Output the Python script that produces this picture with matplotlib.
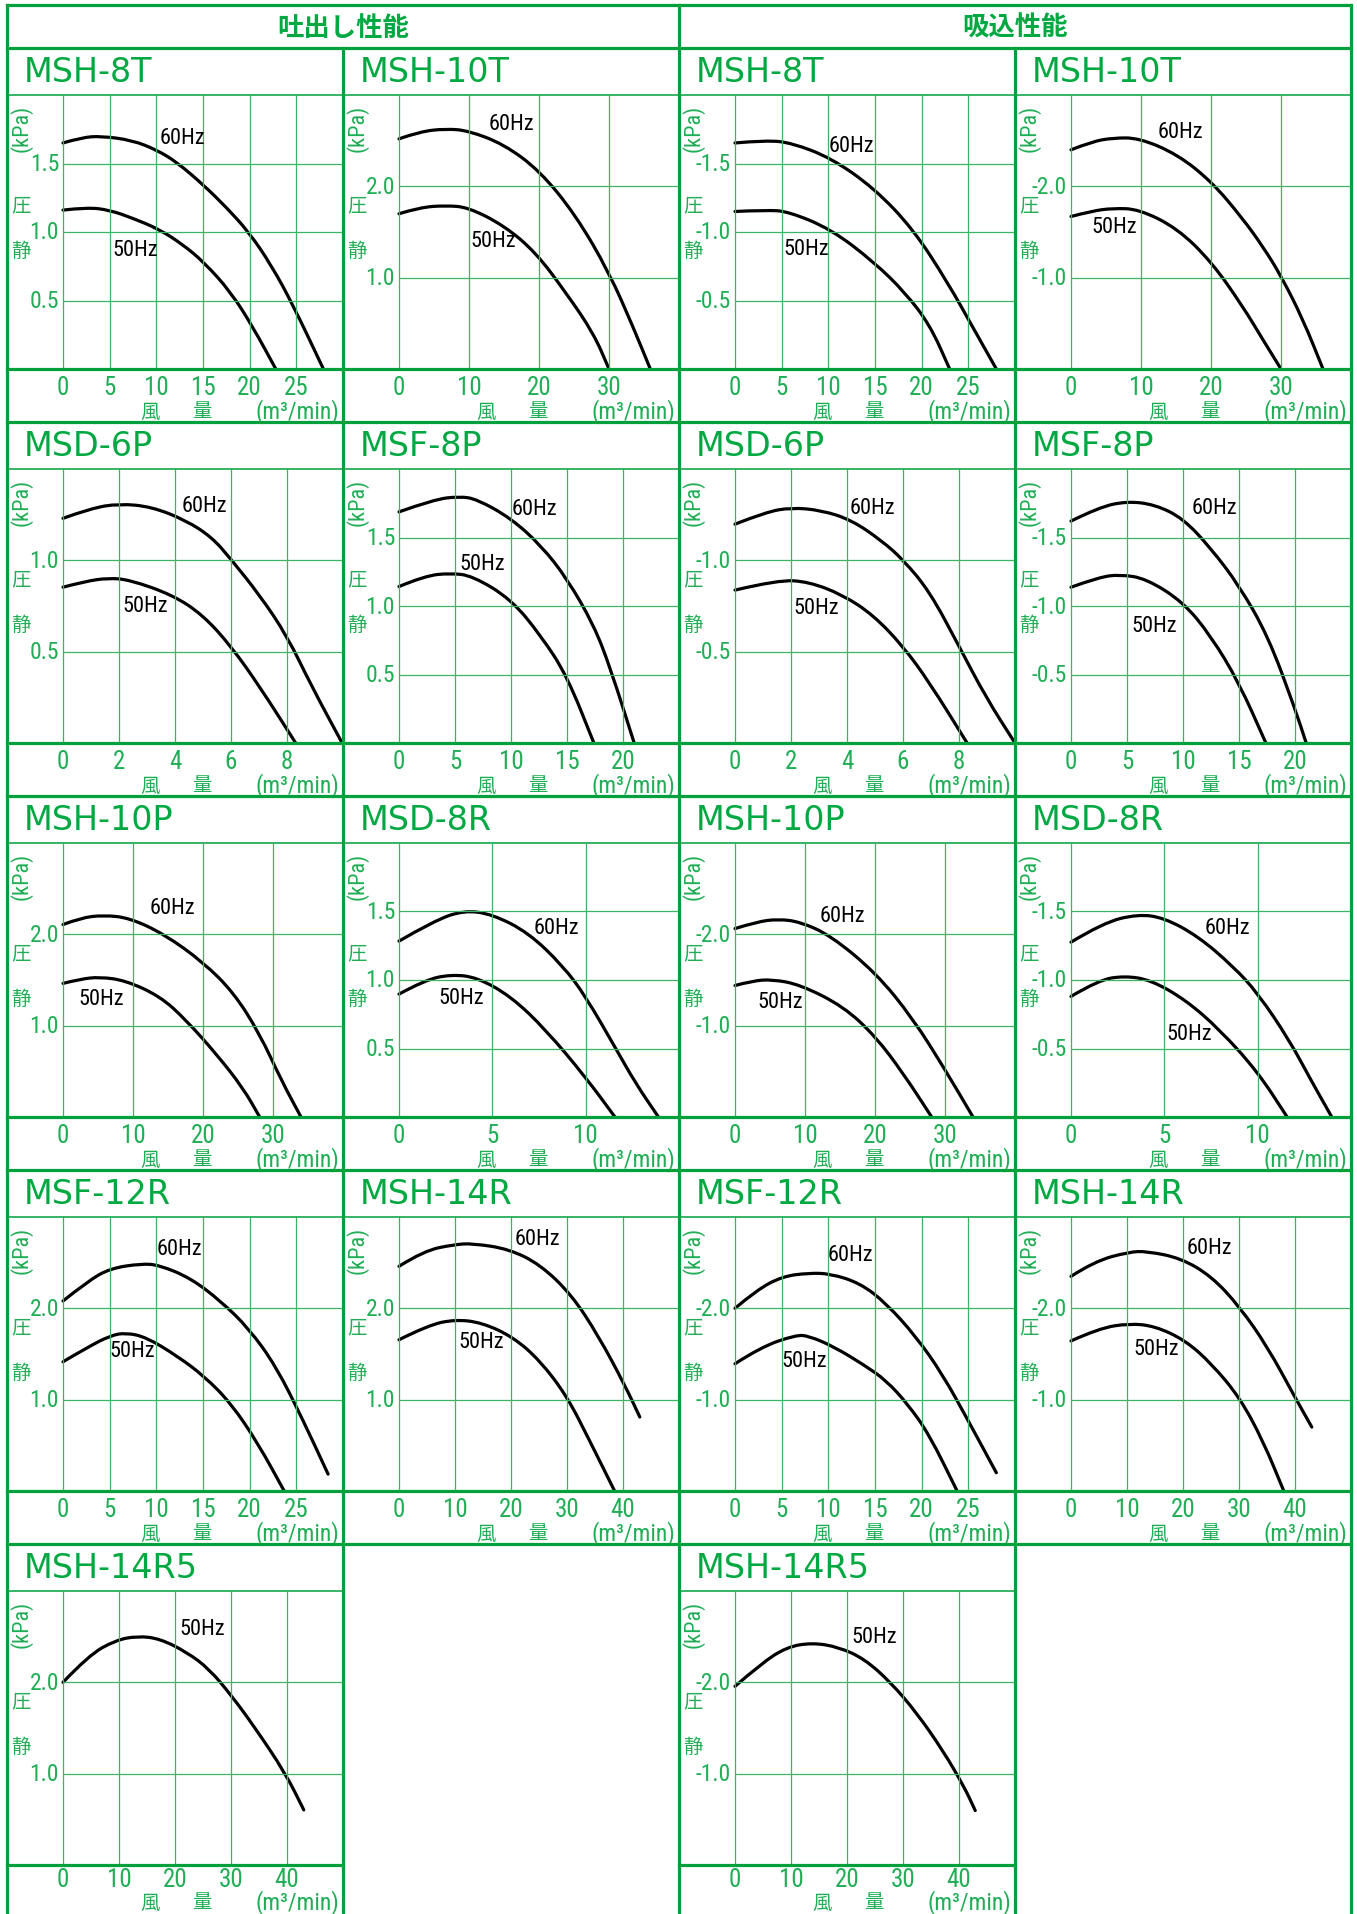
import matplotlib
matplotlib.use("Agg")
import matplotlib.pyplot as plt
from matplotlib import font_manager as fm
from matplotlib.path import Path
from matplotlib.patches import PathPatch

W, H = 1357, 1915

# ---------------- data: 風量 (m3/min) / 静圧 (kPa) ----------------
# 吐出し性能 (discharge)
d_msh8t_q60 = [0, 2, 4.1, 7.4, 10, 12.2, 15.1, 17.5, 19.9, 22.3, 24.7, 27.9]
d_msh8t_p60 = [1.65, 1.69, 1.70, 1.67, 1.60, 1.51, 1.34, 1.18, 1.00, 0.76, 0.46, 0.0]
d_msh8t_q50 = [0, 2.6, 5.0, 7.5, 10.3, 12.8, 15.1, 18.0, 20.4, 22.8]
d_msh8t_p50 = [1.16, 1.18, 1.16, 1.10, 1.02, 0.91, 0.78, 0.56, 0.30, 0.0]

d_msh10t_q60 = [0, 3, 6.7, 9.9, 15, 20.1, 25.2, 30, 33.5, 35.9]
d_msh10t_p60 = [2.52, 2.60, 2.63, 2.61, 2.46, 2.17, 1.69, 1.06, 0.45, 0.0]
d_msh10t_q50 = [0, 3, 6.7, 9.9, 15, 19.5, 23.9, 27.8, 30]
d_msh10t_p50 = [1.70, 1.77, 1.79, 1.77, 1.57, 1.28, 0.83, 0.39, 0.0]

d_msd6p_q60 = [0, 1, 2, 3.15, 4.39, 5.32, 6, 7.02, 8, 8.88, 9.97]
d_msd6p_p60 = [1.23, 1.285, 1.31, 1.294, 1.219, 1.126, 1.006, 0.81, 0.587, 0.31, 0.0]
d_msd6p_q50 = [0, 0.8, 1.6, 2.37, 3.92, 5.0, 6, 7.02, 8.31]
d_msd6p_p50 = [0.853, 0.885, 0.903, 0.894, 0.81, 0.70, 0.53, 0.31, 0.0]

d_msf8p_q60 = [0, 3.09, 5.4, 6.95, 10, 12.7, 15, 17.4, 18.9, 21]
d_msf8p_p60 = [1.687, 1.777, 1.80, 1.78, 1.64, 1.44, 1.20, 0.86, 0.54, 0.0]
d_msf8p_q50 = [0, 2.3, 4.6, 6.56, 10, 12.7, 15, 17.4]
d_msf8p_p50 = [1.142, 1.22, 1.24, 1.22, 1.05, 0.78, 0.49, 0.0]

d_msh10p_q60 = [0, 2.5, 5.78, 9.5, 14.5, 20.1, 24.4, 28.1, 31.2, 34]
d_msh10p_p60 = [2.107, 2.18, 2.21, 2.18, 2.0, 1.69, 1.36, 0.91, 0.40, 0.0]
d_msh10p_q50 = [0, 2.5, 5.2, 8.9, 13.9, 17.6, 21.9, 25.7, 28.1]
d_msh10p_p50 = [1.463, 1.51, 1.533, 1.496, 1.32, 1.06, 0.69, 0.32, 0.0]

d_msd8r_q60 = [0, 1.85, 3.47, 5, 6.94, 8.8, 10, 11.57, 12.7, 13.9]
d_msd8r_p60 = [1.284, 1.43, 1.509, 1.48, 1.345, 1.10, 0.88, 0.51, 0.24, 0.0]
d_msd8r_q50 = [0, 1.39, 2.78, 4.17, 6.0, 7.87, 10, 11.57]
d_msd8r_p50 = [0.897, 1.0, 1.04, 1.02, 0.88, 0.636, 0.29, 0.0]

d_msf12r_q60 = [0, 2.64, 5.04, 8.4, 10.3, 13.7, 17.0, 19.9, 22.8, 25.7, 28.4]
d_msf12r_p60 = [2.08, 2.296, 2.437, 2.489, 2.474, 2.33, 2.07, 1.78, 1.37, 0.78, 0.185]
d_msf12r_q50 = [0, 2.64, 5.04, 6.7, 8.9, 12.2, 15.1, 18.0, 20.9, 23.7]
d_msf12r_p50 = [1.415, 1.574, 1.70, 1.733, 1.685, 1.48, 1.26, 0.96, 0.52, 0.0]

d_msh14r_q60 = [0, 4.4, 10, 13.2, 19.6, 25.2, 30.8, 35.6, 40.4, 43]
d_msh14r_p60 = [2.46, 2.63, 2.70, 2.71, 2.65, 2.48, 2.15, 1.70, 1.15, 0.81]
d_msh14r_q50 = [0, 5.2, 10, 14.8, 20.4, 25.2, 30, 34, 38.5]
d_msh14r_p50 = [1.656, 1.815, 1.878, 1.844, 1.685, 1.426, 1.037, 0.556, 0.0]

d_msh14r5_q50 = [0, 4.55, 9.34, 13.3, 17.3, 22.1, 26.1, 30.1, 34.1, 39.7, 43]
d_msh14r5_p50 = [2.0, 2.294, 2.46, 2.507, 2.478, 2.33, 2.147, 1.853, 1.52, 1.007, 0.603]

# 吸込性能 (suction, magnitudes; labels are negative)
s_msh8t_q60 = [0, 3.4, 6.1, 10.3, 14.9, 19.1, 22.8, 25.6, 28]
s_msh8t_p60 = [1.65, 1.67, 1.65, 1.54, 1.32, 1.02, 0.63, 0.29, 0.0]
s_msh8t_q50 = [0, 3.4, 5.7, 10.3, 14.9, 18.2, 20.9, 23]
s_msh8t_p50 = [1.15, 1.16, 1.15, 1.02, 0.78, 0.56, 0.32, 0.0]

s_msh10t_q60 = [0, 3, 6, 9.7, 15.2, 20.1, 24.5, 27.5, 30, 33.1, 36]
s_msh10t_p60 = [2.40, 2.49, 2.53, 2.53, 2.35, 2.05, 1.65, 1.33, 1.02, 0.55, 0.0]
s_msh10t_q50 = [0, 3, 6, 9.7, 15.2, 20.1, 24.5, 27.5, 30]
s_msh10t_p50 = [1.67, 1.73, 1.76, 1.75, 1.54, 1.17, 0.69, 0.31, 0.0]

s_msd6p_q60 = [0, 1.08, 2, 3.09, 4.17, 5.25, 6, 6.95, 8, 8.96, 10]
s_msd6p_p60 = [1.198, 1.263, 1.289, 1.274, 1.22, 1.106, 1.004, 0.83, 0.53, 0.25, 0.0]
s_msd6p_q50 = [0, 1.54, 2.63, 3.86, 4.94, 6, 6.95, 8.29]
s_msd6p_p50 = [0.837, 0.893, 0.883, 0.81, 0.70, 0.53, 0.33, 0.0]

s_msf8p_q60 = [0, 2.48, 5, 7.5, 10, 12.5, 15, 17.6, 20, 21]
s_msf8p_p60 = [1.62, 1.72, 1.765, 1.74, 1.64, 1.42, 1.15, 0.78, 0.25, 0.0]
s_msf8p_q50 = [0, 2.48, 4.4, 6.7, 10, 12.5, 15, 17.4]
s_msf8p_p50 = [1.137, 1.21, 1.23, 1.20, 1.03, 0.78, 0.44, 0.0]

s_msh10p_q60 = [0, 3.1, 6.18, 9.28, 13.6, 20.1, 25.4, 30, 34]
s_msh10p_p60 = [2.063, 2.137, 2.167, 2.137, 1.99, 1.58, 1.08, 0.52, 0.0]
s_msh10p_q50 = [0, 2.5, 5.26, 9.28, 15.5, 20.1, 24.1, 28.1]
s_msh10p_p50 = [1.44, 1.49, 1.507, 1.45, 1.21, 0.88, 0.47, 0.0]

s_msd8r_q60 = [0, 1.72, 3.57, 4.97, 6.8, 8.68, 10, 11.7, 12.85, 13.97]
s_msd8r_p60 = [1.276, 1.418, 1.48, 1.455, 1.32, 1.10, 0.905, 0.56, 0.27, 0.0]
s_msd8r_q50 = [0, 1.48, 2.88, 4.27, 6.13, 7.98, 10, 11.58]
s_msd8r_p50 = [0.88, 1.0, 1.03, 1.0, 0.856, 0.636, 0.33, 0.0]

s_msf12r_q60 = [0, 2.31, 5.09, 7.87, 10.2, 13.4, 16.2, 19.4, 22.2, 25, 28]
s_msf12r_p60 = [2.0, 2.2, 2.35, 2.386, 2.38, 2.276, 2.055, 1.69, 1.283, 0.768, 0.2]
s_msf12r_q50 = [0, 2.78, 6.48, 7.87, 10.65, 13.9, 16.2, 18.5, 20.8, 23.8]
s_msf12r_p50 = [1.393, 1.577, 1.706, 1.70, 1.577, 1.375, 1.21, 0.952, 0.62, 0.0]

s_msh14r_q60 = [0, 4.18, 10.4, 13.5, 19.6, 25.1, 30.1, 35.1, 40, 43]
s_msh14r_p60 = [2.35, 2.515, 2.618, 2.625, 2.55, 2.35, 2.018, 1.577, 1.026, 0.70]
s_msh14r_q50 = [0, 4.95, 10.4, 15, 20.4, 25.1, 30.1, 34.3, 38]
s_msh14r_p50 = [1.643, 1.78, 1.835, 1.805, 1.65, 1.393, 1.026, 0.548, 0.0]

s_msh14r5_q50 = [0, 4.56, 9.2, 13.8, 18.5, 23.1, 27.8, 32.4, 37, 40.9, 42.9]
s_msh14r5_p50 = [1.956, 2.2, 2.386, 2.434, 2.386, 2.257, 2.0, 1.669, 1.265, 0.86, 0.596]

# axis ranges / ticks per model
xmax = {"MSH-8T": 30, "MSH-10T": 40, "MSD-6P": 10, "MSF-8P": 25, "MSH-10P": 40,
        "MSD-8R": 15, "MSF-12R": 30, "MSH-14R": 50, "MSH-14R5": 50}
ymax = {"MSH-8T": 2.0, "MSH-10T": 3.0, "MSD-6P": 1.5, "MSF-8P": 2.0, "MSH-10P": 3.0,
        "MSD-8R": 2.0, "MSF-12R": 3.0, "MSH-14R": 3.0, "MSH-14R5": 3.0}
xticks = {"MSH-8T": [0, 5, 10, 15, 20, 25], "MSH-10T": [0, 10, 20, 30],
          "MSD-6P": [0, 2, 4, 6, 8], "MSF-8P": [0, 5, 10, 15, 20],
          "MSH-10P": [0, 10, 20, 30], "MSD-8R": [0, 5, 10],
          "MSF-12R": [0, 5, 10, 15, 20, 25], "MSH-14R": [0, 10, 20, 30, 40],
          "MSH-14R5": [0, 10, 20, 30, 40]}
yticks = {"MSH-8T": [0.5, 1.0, 1.5], "MSH-10T": [1.0, 2.0], "MSD-6P": [0.5, 1.0],
          "MSF-8P": [0.5, 1.0, 1.5], "MSH-10P": [1.0, 2.0], "MSD-8R": [0.5, 1.0, 1.5],
          "MSF-12R": [1.0, 2.0], "MSH-14R": [1.0, 2.0], "MSH-14R5": [1.0, 2.0]}

# panels: (row, col, model, suction?, curves [(q, p, label, label_x, label_y)])
panels = [
    (0, 0, "MSH-8T", False, [(d_msh8t_q60, d_msh8t_p60, "60Hz", 12.8, 1.69), (d_msh8t_q50, d_msh8t_p50, "50Hz", 7.7, 0.87)]),
    (0, 1, "MSH-10T", False, [(d_msh10t_q60, d_msh10t_p60, "60Hz", 16.1, 2.69), (d_msh10t_q50, d_msh10t_p50, "50Hz", 13.4, 1.41)]),
    (1, 0, "MSD-6P", False, [(d_msd6p_q60, d_msd6p_p60, "60Hz", 5.04, 1.30), (d_msd6p_q50, d_msd6p_p50, "50Hz", 2.93, 0.75)]),
    (1, 1, "MSF-8P", False, [(d_msf8p_q60, d_msf8p_p60, "60Hz", 12.05, 1.71), (d_msf8p_q50, d_msf8p_p50, "50Hz", 7.45, 1.31)]),
    (2, 0, "MSH-10P", False, [(d_msh10p_q60, d_msh10p_p60, "60Hz", 15.6, 2.29), (d_msh10p_q50, d_msh10p_p50, "50Hz", 5.47, 1.30)]),
    (2, 1, "MSD-8R", False, [(d_msd8r_q60, d_msd8r_p60, "60Hz", 8.45, 1.38), (d_msd8r_q50, d_msd8r_p50, "50Hz", 3.36, 0.87)]),
    (3, 0, "MSF-12R", False, [(d_msf12r_q60, d_msf12r_p60, "60Hz", 12.5, 2.66), (d_msf12r_q50, d_msf12r_p50, "50Hz", 7.43, 1.54)]),
    (3, 1, "MSH-14R", False, [(d_msh14r_q60, d_msh14r_p60, "60Hz", 24.8, 2.76), (d_msh14r_q50, d_msh14r_p50, "50Hz", 14.6, 1.64)]),
    (4, 0, "MSH-14R5", False, [(d_msh14r5_q50, d_msh14r5_p50, "50Hz", 24.9, 2.59)]),
    (0, 2, "MSH-8T", True, [(s_msh8t_q60, s_msh8t_p60, "60Hz", 12.5, 1.63), (s_msh8t_q50, s_msh8t_p50, "50Hz", 7.6, 0.88)]),
    (0, 3, "MSH-10T", True, [(s_msh10t_q60, s_msh10t_p60, "60Hz", 15.6, 2.60), (s_msh10t_q50, s_msh10t_p50, "50Hz", 6.2, 1.56)]),
    (1, 2, "MSD-6P", True, [(s_msd6p_q60, s_msd6p_p60, "60Hz", 4.91, 1.29), (s_msd6p_q50, s_msd6p_p50, "50Hz", 2.9, 0.74)]),
    (1, 3, "MSF-8P", True, [(s_msf8p_q60, s_msf8p_p60, "60Hz", 12.8, 1.72), (s_msf8p_q50, s_msf8p_p50, "50Hz", 7.39, 0.86)]),
    (2, 2, "MSH-10P", True, [(s_msh10p_q60, s_msh10p_p60, "60Hz", 15.3, 2.21), (s_msh10p_q50, s_msh10p_p50, "50Hz", 6.5, 1.26)]),
    (2, 3, "MSD-8R", True, [(s_msd8r_q60, s_msd8r_p60, "60Hz", 8.4, 1.38), (s_msd8r_q50, s_msd8r_p50, "50Hz", 6.31, 0.61)]),
    (3, 2, "MSF-12R", True, [(s_msf12r_q60, s_msf12r_p60, "60Hz", 12.4, 2.59), (s_msf12r_q50, s_msf12r_p50, "50Hz", 7.4, 1.43)]),
    (3, 3, "MSH-14R", True, [(s_msh14r_q60, s_msh14r_p60, "60Hz", 24.8, 2.67), (s_msh14r_q50, s_msh14r_p50, "50Hz", 15.2, 1.56)]),
    (4, 2, "MSH-14R5", True, [(s_msh14r5_q50, s_msh14r5_p50, "50Hz", 24.8, 2.50)]),
]

# ---------------- style ----------------
BORDER = "#00a03c"
GRID = "#3cb464"
TXT = "#1fae55"
TITLE = "#00a842"


def pick_font(names):
    for n in names:
        try:
            fm.findfont(fm.FontProperties(family=n), fallback_to_default=False)
            return n
        except Exception:
            pass
    return "DejaVu Sans"


NARROW = pick_font(["Liberation Sans Narrow", "Roboto Condensed", "Roboto", "Liberation Sans"])
NUM = [NARROW, "DejaVu Sans"]
CJK = ["Noto Sans CJK JP", "DejaVu Sans"]

COL_L = [7, 343, 679, 1015]
PW = 336
ROW0, ROW_H = 49, 374
TITLE_H, PLOT_H, XBOX_H = 47, 274, 53
X0 = 56  # px from panel left to q = 0


def curve_path(q, p):
    # smooth quadratic-bezier path with the read points as control points
    verts = [(q[0], p[0])]
    codes = [Path.MOVETO]
    for i in range(1, len(q) - 1):
        verts += [(q[i], p[i]), ((q[i] + q[i + 1]) / 2, (p[i] + p[i + 1]) / 2)]
        codes += [Path.CURVE3, Path.CURVE3]
    verts.append((q[-1], p[-1]))
    codes.append(Path.LINETO)
    return Path(verts, codes)


fig = plt.figure(figsize=(W / 100, H / 100), dpi=100)
fig.patch.set_facecolor("white")

for row, col, model, suction, curves in panels:
    left = COL_L[col]
    top = ROW0 + row * ROW_H
    ptop = top + TITLE_H
    R, T = xmax[model], ymax[model]
    ax = fig.add_axes([left / W, 1 - (ptop + PLOT_H) / H, PW / W, PLOT_H / H])
    ax.set_xlim(-R * X0 / (PW - X0), R)
    ax.set_ylim(0, T)
    ax.axis("off")
    ax.vlines(xticks[model], 0, T, color=GRID, lw=0.9)
    ax.hlines(yticks[model], 0, R, color=GRID, lw=0.9)

    for q, p, lab, lx, ly in curves:
        ax.add_patch(PathPatch(curve_path(q, p), fill=False, edgecolor="black", lw=2.3,
                               joinstyle="round", capstyle="round"))
        ax.text(lx, ly, lab, ha="center", va="center", fontsize=16, family=NUM, color="black")

    dx = 4 * R / (PW - X0)
    for yv in yticks[model]:
        s = f"{-yv:.1f}" if suction else f"{yv:.1f}"
        ax.text(-dx, yv, s, ha="right", va="center", fontsize=17, family=NUM, color=TXT)

    # last row is cut by the page edge: squeeze its caption box a little
    tick_y, cap_y = (-18, -42) if row < 4 else (-14, -37)

    xtr = ax.get_xaxis_transform()
    for xv in xticks[model]:
        ax.text(xv, tick_y / PLOT_H, str(xv), transform=xtr, ha="center", va="center",
                fontsize=18, family=NUM, color=TXT, clip_on=False)

    # axis captions
    tr = ax.transAxes
    ax.text(14 / PW, 1 - 32 / PLOT_H, "(kPa)", transform=tr, rotation=90, ha="center", va="center",
            fontsize=16, family=NUM, color=TXT)
    ax.text(14 / PW, 1 - 110 / PLOT_H, "圧", transform=tr, ha="center", va="center",
            fontsize=14, family=CJK, color=TXT)
    ax.text(14 / PW, 1 - 155 / PLOT_H, "静", transform=tr, ha="center", va="center",
            fontsize=14, family=CJK, color=TXT)
    ax.text(143 / PW, cap_y / PLOT_H, "風", transform=tr, ha="center", va="center",
            fontsize=14, family=CJK, color=TXT, clip_on=False)
    ax.text(195 / PW, cap_y / PLOT_H, "量", transform=tr, ha="center", va="center",
            fontsize=14, family=CJK, color=TXT, clip_on=False)
    ax.text(332 / PW, cap_y / PLOT_H, "(m³/min)", transform=tr, ha="right", va="center",
            fontsize=17, family=NUM, color=TXT, clip_on=False)

    fig.text((left + 17) / W, 1 - (top + 24) / H, model, ha="left", va="center",
             fontsize=24, family="DejaVu Sans", color=TITLE)

# section headers
fig.text(343 / W, 1 - 28 / H, "吐出し性能", ha="center", va="center", fontsize=19,
         fontweight="bold", family=CJK, color=TITLE)
fig.text(1015 / W, 1 - 28 / H, "吸込性能", ha="center", va="center", fontsize=19,
         fontweight="bold", family=CJK, color=TITLE)

# frame lines (pixel overlay)
ov = fig.add_axes([0, 0, 1, 1], zorder=10)
ov.set_xlim(0, W)
ov.set_ylim(H, 0)
ov.axis("off")


def seg(x1, y1, x2, y2, lw):
    ov.plot([x1, x2], [y1, y2], color=BORDER, lw=lw, solid_capstyle="projecting")


THICK, THIN = 2.3, 1.1
RIGHT = COL_L[3] + PW
seg(COL_L[0], 6, RIGHT, 6, THICK)
seg(COL_L[0], ROW0, RIGHT, ROW0, THICK)
seg(COL_L[0], 6, COL_L[0], H + 5, THICK)
seg(RIGHT, 6, RIGHT, H + 5, THICK)
seg(COL_L[2], 6, COL_L[2], H + 5, THICK)
seg(COL_L[1], ROW0, COL_L[1], H + 5, THICK)
seg(COL_L[3], ROW0, COL_L[3], H + 5, THICK)
for r in range(5):
    top = ROW0 + r * ROW_H
    cols = [0, 1, 2, 3] if r < 4 else [0, 2]
    for c in cols:
        seg(COL_L[c], top + TITLE_H, COL_L[c] + PW, top + TITLE_H, THIN)
        seg(COL_L[c], top + TITLE_H + PLOT_H, COL_L[c] + PW, top + TITLE_H + PLOT_H, THICK)
    if r < 4:
        seg(COL_L[0], top + ROW_H, RIGHT, top + ROW_H, THICK)

fig.savefig("out.png", dpi=100, facecolor="white")
